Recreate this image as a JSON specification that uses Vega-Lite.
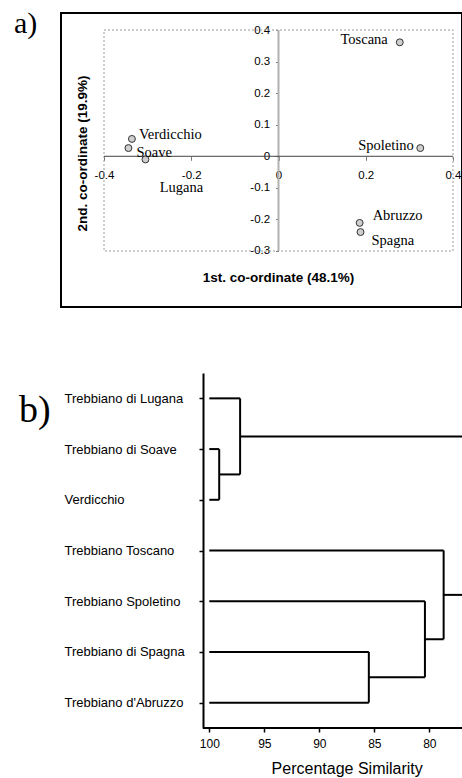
{
  "$schema": "https://vega.github.io/schema/vega-lite/v6.json",
  "autosize": {"type": "pad"},
  "padding": {"left": 13, "top": 8, "right": 0, "bottom": 0},
  "bounds": "flush",
  "spacing": 66,
  "background": "white",
  "config": {"view": {"stroke": null}, "font": "Liberation Sans"},
  "vconcat": [
    {
      "width": 401,
      "height": 294,
      "view": {"stroke": "black", "strokeWidth": 2},
      "title": {"text": "a)", "font": "Liberation Serif", "fontSize": 30, "fontWeight": "normal", "color": "black", "anchor": "start", "frame": "group", "orient": "top", "offset": 0, "baseline": "middle", "dx": -47, "dy": 41},
      "data": {"values": [
        {"name": "Toscana", "x": 0.278, "y": 0.361},
        {"name": "Spoletino", "x": 0.325, "y": 0.026},
        {"name": "Verdicchio", "x": -0.336, "y": 0.055},
        {"name": "Soave", "x": -0.344, "y": 0.026},
        {"name": "Lugana", "x": -0.305, "y": -0.010},
        {"name": "Abruzzo", "x": 0.186, "y": -0.211},
        {"name": "Spagna", "x": 0.188, "y": -0.240}
      ]},
      "layer": [
        {
          "data": {"values": [{}]},
          "mark": {"type": "rect", "fill": null, "stroke": "#9a9a9a", "strokeWidth": 1, "strokeDash": [2, 2]},
          "encoding": {
            "x": {"datum": -0.4, "type": "quantitative", "scale": {"domain": [-0.49857, 0.42063], "nice": false, "zero": false}},
            "x2": {"datum": 0.4},
            "y": {"datum": -0.3, "type": "quantitative", "scale": {"domain": [-0.47738, 0.45385], "nice": false, "zero": false}},
            "y2": {"datum": 0.4}
          }
        },
        {
          "data": {"values": [{}]},
          "mark": {"type": "rule", "stroke": "#b0b0b0", "strokeWidth": 2},
          "encoding": {
            "x": {"datum": 0, "type": "quantitative", "scale": {"domain": [-0.49857, 0.42063], "nice": false, "zero": false}},
            "y": {"datum": -0.3, "type": "quantitative", "scale": {"domain": [-0.47738, 0.45385], "nice": false, "zero": false}},
            "y2": {"datum": 0.4}
          }
        },
        {
          "data": {"values": [{}]},
          "mark": {"type": "rule", "stroke": "#444444", "strokeWidth": 1},
          "encoding": {
            "x": {"datum": -0.4, "type": "quantitative", "scale": {"domain": [-0.49857, 0.42063], "nice": false, "zero": false}},
            "x2": {"datum": 0.4},
            "y": {"datum": 0, "type": "quantitative", "scale": {"domain": [-0.47738, 0.45385], "nice": false, "zero": false}}
          }
        },
        {
          "mark": {"type": "point", "shape": "circle", "filled": true, "size": 48, "fill": "#cfcfcf", "stroke": "#333333", "strokeWidth": 1, "opacity": 1},
          "encoding": {
            "x": {"field": "x", "type": "quantitative", "scale": {"domain": [-0.49857, 0.42063], "nice": false, "zero": false},
              "axis": {"values": [-0.4, -0.2, 0, 0.2, 0.4], "offset": -150.7, "domain": false, "grid": false, "ticks": true, "tickSize": 4, "tickColor": "#777777", "labelFont": "Liberation Sans", "labelFontSize": 11.5, "labelColor": "black", "labelBaseline": "middle", "labelPadding": 14.7, "labelFlush": false, "labelOverlap": false, "labelExpr": "toString(datum.value)",
                "title": "1st. co-ordinate (48.1%)", "titleFont": "Liberation Sans", "titleFontSize": 13.5, "titleFontWeight": "bold", "titleColor": "black", "titleX": 217, "titleY": 120.7, "titleAlign": "center", "titleBaseline": "middle"}},
            "y": {"field": "y", "type": "quantitative", "scale": {"domain": [-0.47738, 0.45385], "nice": false, "zero": false},
              "axis": {"values": [-0.3, -0.2, -0.1, 0, 0.1, 0.2, 0.3, 0.4], "offset": -217.5, "domain": false, "grid": false, "ticks": true, "tickSize": 3, "tickColor": "#777777", "labelFont": "Liberation Sans", "labelFontSize": 11.5, "labelColor": "black", "labelBaseline": "middle", "labelPadding": 5.8, "labelFlush": false, "labelOverlap": false, "labelExpr": "toString(datum.value)",
                "title": "2nd. co-ordinate (19.9%)", "titleFont": "Liberation Sans", "titleFontSize": 13.5, "titleFontWeight": "bold", "titleColor": "black", "titleX": -196.5, "titleY": 140, "titleAngle": -90, "titleAlign": "center", "titleBaseline": "middle"}}
          }
        },
        {
          "transform": [{"filter": {"field": "name", "equal": "Toscana"}}],
          "mark": {"type": "text", "font": "Liberation Serif", "fontSize": 14.5, "color": "black", "align": "right", "baseline": "middle", "dx": -12, "dy": -2},
          "encoding": {
            "x": {"field": "x", "type": "quantitative", "scale": {"domain": [-0.49857, 0.42063], "nice": false, "zero": false}},
            "y": {"field": "y", "type": "quantitative", "scale": {"domain": [-0.47738, 0.45385], "nice": false, "zero": false}},
            "text": {"field": "name"}
          }
        },
        {
          "transform": [{"filter": {"field": "name", "equal": "Spoletino"}}],
          "mark": {"type": "text", "font": "Liberation Serif", "fontSize": 14.5, "color": "black", "align": "right", "baseline": "middle", "dx": -6.5, "dy": -2},
          "encoding": {
            "x": {"field": "x", "type": "quantitative", "scale": {"domain": [-0.49857, 0.42063], "nice": false, "zero": false}},
            "y": {"field": "y", "type": "quantitative", "scale": {"domain": [-0.47738, 0.45385], "nice": false, "zero": false}},
            "text": {"field": "name"}
          }
        },
        {
          "transform": [{"filter": {"field": "name", "equal": "Verdicchio"}}],
          "mark": {"type": "text", "font": "Liberation Serif", "fontSize": 14.5, "color": "black", "align": "left", "baseline": "middle", "dx": 7, "dy": -4},
          "encoding": {
            "x": {"field": "x", "type": "quantitative", "scale": {"domain": [-0.49857, 0.42063], "nice": false, "zero": false}},
            "y": {"field": "y", "type": "quantitative", "scale": {"domain": [-0.47738, 0.45385], "nice": false, "zero": false}},
            "text": {"field": "name"}
          }
        },
        {
          "transform": [{"filter": {"field": "name", "equal": "Soave"}}],
          "mark": {"type": "text", "font": "Liberation Serif", "fontSize": 14.5, "color": "black", "align": "left", "baseline": "middle", "dx": 8, "dy": 5},
          "encoding": {
            "x": {"field": "x", "type": "quantitative", "scale": {"domain": [-0.49857, 0.42063], "nice": false, "zero": false}},
            "y": {"field": "y", "type": "quantitative", "scale": {"domain": [-0.47738, 0.45385], "nice": false, "zero": false}},
            "text": {"field": "name"}
          }
        },
        {
          "transform": [{"filter": {"field": "name", "equal": "Lugana"}}],
          "mark": {"type": "text", "font": "Liberation Serif", "fontSize": 14.5, "color": "black", "align": "center", "baseline": "middle", "dx": 36, "dy": 29},
          "encoding": {
            "x": {"field": "x", "type": "quantitative", "scale": {"domain": [-0.49857, 0.42063], "nice": false, "zero": false}},
            "y": {"field": "y", "type": "quantitative", "scale": {"domain": [-0.47738, 0.45385], "nice": false, "zero": false}},
            "text": {"field": "name"}
          }
        },
        {
          "transform": [{"filter": {"field": "name", "equal": "Abruzzo"}}],
          "mark": {"type": "text", "font": "Liberation Serif", "fontSize": 14.5, "color": "black", "align": "left", "baseline": "middle", "dx": 13, "dy": -7},
          "encoding": {
            "x": {"field": "x", "type": "quantitative", "scale": {"domain": [-0.49857, 0.42063], "nice": false, "zero": false}},
            "y": {"field": "y", "type": "quantitative", "scale": {"domain": [-0.47738, 0.45385], "nice": false, "zero": false}},
            "text": {"field": "name"}
          }
        },
        {
          "transform": [{"filter": {"field": "name", "equal": "Spagna"}}],
          "mark": {"type": "text", "font": "Liberation Serif", "fontSize": 14.5, "color": "black", "align": "left", "baseline": "middle", "dx": 11, "dy": 9},
          "encoding": {
            "x": {"field": "x", "type": "quantitative", "scale": {"domain": [-0.49857, 0.42063], "nice": false, "zero": false}},
            "y": {"field": "y", "type": "quantitative", "scale": {"domain": [-0.47738, 0.45385], "nice": false, "zero": false}},
            "text": {"field": "name"}
          }
        }
      ]
    },
    {
      "width": 402,
      "height": 355,
      "title": {"text": "b)", "font": "Liberation Serif", "fontSize": 38, "fontWeight": "normal", "color": "black", "anchor": "start", "frame": "group", "orient": "top", "offset": 0, "baseline": "middle", "dx": -42, "dy": 76},
      "resolve": {"scale": {"y": "independent"}, "axis": {"y": "independent"}},
      "layer": [
        {
          "data": {"values": [
            {"name": "Trebbiano di Lugana", "row": 1, "sim": 100, "join": 97.2},
            {"name": "Trebbiano di Soave", "row": 2, "sim": 100, "join": 99.1},
            {"name": "Verdicchio", "row": 3, "sim": 100, "join": 99.1},
            {"name": "Trebbiano Toscano", "row": 4, "sim": 100, "join": 78.7},
            {"name": "Trebbiano Spoletino", "row": 5, "sim": 100, "join": 80.4},
            {"name": "Trebbiano di Spagna", "row": 6, "sim": 100, "join": 85.5},
            {"name": "Trebbiano d'Abruzzo", "row": 7, "sim": 100, "join": 85.5}
          ]},
          "mark": {"type": "rule", "stroke": "black", "strokeWidth": 2},
          "encoding": {
            "y": {"field": "name", "type": "nominal", "sort": {"field": "row", "op": "min", "order": "ascending"}, "scale": {"type": "point", "padding": 0.5},
              "axis": {"orient": "left", "offset": -142, "domain": true, "domainColor": "black", "domainWidth": 2, "ticks": true, "tickSize": 4, "tickWidth": 1.5, "tickColor": "black", "grid": false, "labelAlign": "left", "labelBaseline": "middle", "labelPadding": 135, "labelFont": "Liberation Sans", "labelFontSize": 13, "labelColor": "black", "labelLimit": 300, "title": null}},
            "x": {"field": "sim", "type": "quantitative", "scale": {"domain": [113.48, 76.94], "nice": false, "zero": false},
              "axis": {"values": [100, 95, 90, 85, 80], "domain": false, "grid": false, "ticks": true, "tickSize": 4, "tickWidth": 1.5, "tickColor": "black", "labelFont": "Liberation Sans", "labelFontSize": 12, "labelColor": "black", "labelBaseline": "middle", "labelPadding": 11.7, "labelFlush": false, "labelOverlap": false,
                "title": "Percentage Similarity", "titleFont": "Liberation Sans", "titleFontSize": 16, "titleFontWeight": "normal", "titleColor": "black", "titleX": 285.7, "titleY": 40.5, "titleAlign": "center", "titleBaseline": "middle"}},
            "x2": {"field": "join"}
          }
        },
        {
          "data": {"values": [
            {"node": "N1", "sim": 99.1, "y1": 2, "y2": 3, "ypos": 2.5, "parent": 97.2},
            {"node": "N2", "sim": 97.2, "y1": 1, "y2": 2.5, "ypos": 1.75, "parent": 76.0},
            {"node": "N3", "sim": 85.5, "y1": 6, "y2": 7, "ypos": 6.5, "parent": 80.4},
            {"node": "N4", "sim": 80.4, "y1": 5, "y2": 6.5, "ypos": 5.75, "parent": 78.7},
            {"node": "N5", "sim": 78.7, "y1": 4, "y2": 5.75, "ypos": 4.875, "parent": 76.0}
          ]},
          "layer": [
            {
              "mark": {"type": "rule", "stroke": "black", "strokeWidth": 2, "clip": true},
              "encoding": {
                "x": {"field": "sim", "type": "quantitative", "scale": {"domain": [113.48, 76.94], "nice": false, "zero": false}},
                "y": {"field": "y1", "type": "quantitative", "scale": {"domain": [0.5, 7.5], "reverse": true, "nice": false, "zero": false}, "axis": null},
                "y2": {"field": "y2"}
              }
            },
            {
              "mark": {"type": "rule", "stroke": "black", "strokeWidth": 2, "clip": true},
              "encoding": {
                "x": {"field": "sim", "type": "quantitative", "scale": {"domain": [113.48, 76.94], "nice": false, "zero": false}},
                "x2": {"field": "parent"},
                "y": {"field": "ypos", "type": "quantitative", "scale": {"domain": [0.5, 7.5], "reverse": true, "nice": false, "zero": false}, "axis": null}
              }
            },
            {
              "data": {"values": [{}]},
              "mark": {"type": "rule", "stroke": "black", "strokeWidth": 2.2},
              "encoding": {
                "x": {"datum": 100.57, "type": "quantitative", "scale": {"domain": [113.48, 76.94], "nice": false, "zero": false}},
                "x2": {"datum": 76.94},
                "y": {"datum": 7.5, "type": "quantitative", "scale": {"domain": [0.5, 7.5], "reverse": true, "nice": false, "zero": false}, "axis": null}
              }
            }
          ]
        }
      ]
    }
  ]
}
